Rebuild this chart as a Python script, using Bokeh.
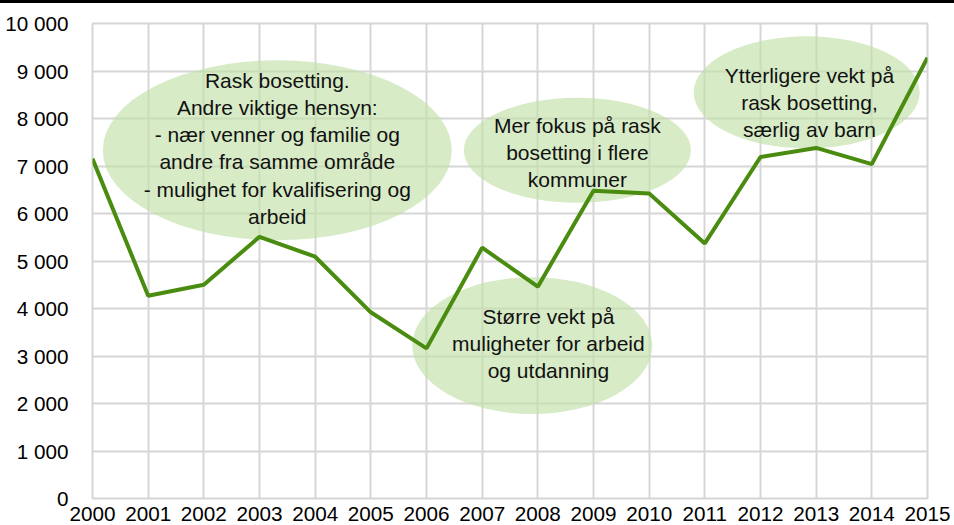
from bokeh.plotting import figure
from bokeh.models import FixedTicker, Spacer, Range1d
from bokeh.layouts import column
from bokeh.core.properties import value
from bokeh.embed import file_html
from bokeh.resources import INLINE

years = list(range(2000, 2016))
counts = [7150, 4270, 4500, 5510, 5090, 3920, 3160, 5280, 4460, 6480, 6420, 5370, 7190, 7380, 7040, 9280]

y_ticks = list(range(0, 10001, 1000))
y_labels = ["0", "1 000", "2 000", "3 000", "4 000", "5 000", "6 000", "7 000", "8 000", "9 000", "10 000"]

notes = [
    "Rask bosetting.\nAndre viktige hensyn:\n- nær venner og familie og\nandre fra samme område\n- mulighet for kvalifisering og\narbeid",
    "Mer fokus på rask\nbosetting i flere\nkommuner",
    "Ytterligere vekt på\nrask bosetting,\nsærlig av barn",
    "Større vekt på\nmuligheter for arbeid\nog utdanning",
]
# ellipse placement (x, y, width, height) and text anchor (x, y)
ell_x = [2003.32, 2008.71, 2012.83, 2007.90]
ell_y = [7330, 7330, 8550, 3220]
ell_w = [6.27, 4.08, 4.06, 4.31]
ell_h = [3790, 2210, 2360, 2880]
txt_x = [2003.32, 2008.71, 2012.88, 2008.19]
txt_y = [7370, 7280, 8340, 3260]

FONT = "Liberation Sans"

p = figure(width=954, height=522, output_backend="svg", toolbar_location=None,
           x_range=Range1d(2000, 2015), y_range=Range1d(0, 10000),
           min_border_left=92, min_border_right=27, min_border_top=20, min_border_bottom=27)
p.background_fill_color = "white"
p.border_fill_color = "white"
p.outline_line_color = "#d6d6d6"
p.outline_line_width = 2

p.xaxis.ticker = FixedTicker(ticks=years)
p.yaxis.ticker = FixedTicker(ticks=y_ticks)
p.yaxis.major_label_overrides = {t: l for t, l in zip(y_ticks, y_labels)}
for ax in (p.xaxis, p.yaxis):
    ax.axis_line_color = None
    ax.major_tick_line_color = None
    ax.minor_tick_line_color = None
    ax.major_label_text_font = FONT
    ax.major_label_text_font_size = "20.7px"
    ax.major_label_text_color = "black"
p.xaxis.major_label_standoff = 2
p.yaxis.major_label_standoff = 18

p.xgrid.ticker = FixedTicker(ticks=years)
p.ygrid.ticker = FixedTicker(ticks=y_ticks)
for g in (p.xgrid, p.ygrid):
    g.grid_line_color = "#d6d6d6"
    g.grid_line_width = 2

p.ellipse(x=ell_x, y=ell_y, width=ell_w, height=ell_h,
          fill_color="#c2e0a8", fill_alpha=0.65, line_color=None)

p.line(years, counts, line_color="#4a8c0f", line_width=4)

p.text(x=txt_x, y=txt_y, text=notes, text_font=value(FONT), text_font_size="21px",
       text_align="center", text_baseline="middle", text_color="#111111",
       text_line_height=1.18)

bar = Spacer(width=954, height=3, styles={"background-color": "black"})
layout = column(bar, p, spacing=0)

open("out.html", "w").write(file_html(layout, INLINE))
